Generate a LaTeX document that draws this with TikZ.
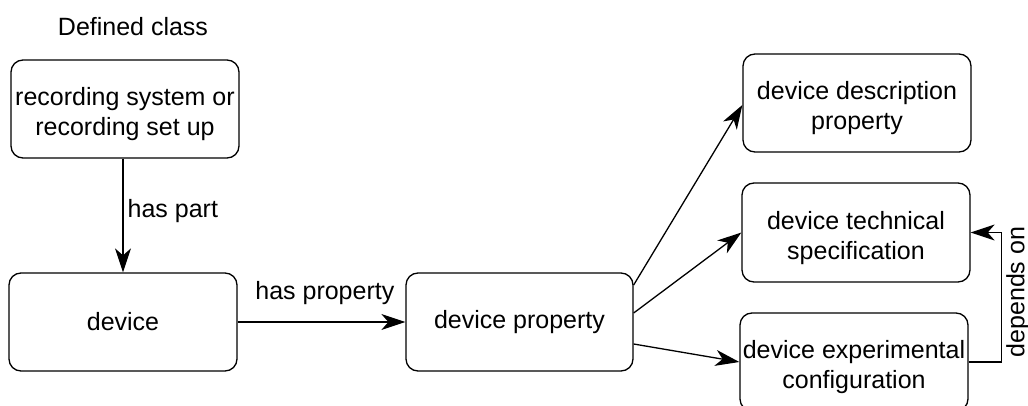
\documentclass[tikz,border=0pt]{standalone}
\usepackage{fontspec}
\setmainfont{Liberation Sans}
\usetikzlibrary{arrows.meta,calc}
% extra height on the first line of two-line labels, to sit them a little lower
\newcommand{\firstline}{\rule{0pt}{29pt}}
\tikzset{
  box/.style={draw, line width=1.3pt, rounded corners=12pt, minimum width=228pt,
    minimum height=98pt, align=center, inner sep=0pt, font=\fontsize{25}{30}\selectfont},
  lbl/.style={font=\fontsize{25}{30}\selectfont},
  arr/.style={line width=1.3pt, -{Stealth[length=24pt, width=16pt, inset=7pt]}}
}
\begin{document}
\begin{tikzpicture}[x=1pt, y=-1pt]
\useasboundingbox (0,0) rectangle (1028,406);
\node[lbl] (title) at (133,27) {Defined class};
\node[box] (rec) at (125,109) {\firstline recording system or\\recording set up};
\node[box] (dev) at (123,322) {device};
\node[box, minimum width=227pt] (dp) at (519.5,322) {device property};
\node[box] (desc) at (857,103) {\firstline device description\\property};
\node[box, minimum height=99pt] (tech) at (856,232.5) {\firstline device technical\\specification};
\node[box] (exp) at (854,362) {\firstline device experimental\\configuration};

\draw[arr] (rec.south -| dev.north) -- node[lbl, pos=0.46, anchor=west, inner sep=4pt] {has part} (dev.north);
\draw[arr] (dev.east) -- node[lbl, pos=0.52, above, inner sep=0pt, yshift=17pt] {has property} (dp.west);
\draw[arr] ($(dp.east)+(0,-37)$) -- ($(desc.west)+(0,2)$);
\draw[arr] ($(dp.east)+(0,-9)$) -- (tech.west);
\draw[arr] ($(dp.east)+(0,22)$) -- (exp.west);
\draw[arr] (exp.east) -- ++(33,0) |- node[lbl, pos=0.27, rotate=90, anchor=north, inner sep=4pt] {depends on} (tech.east);
\end{tikzpicture}
\end{document}
